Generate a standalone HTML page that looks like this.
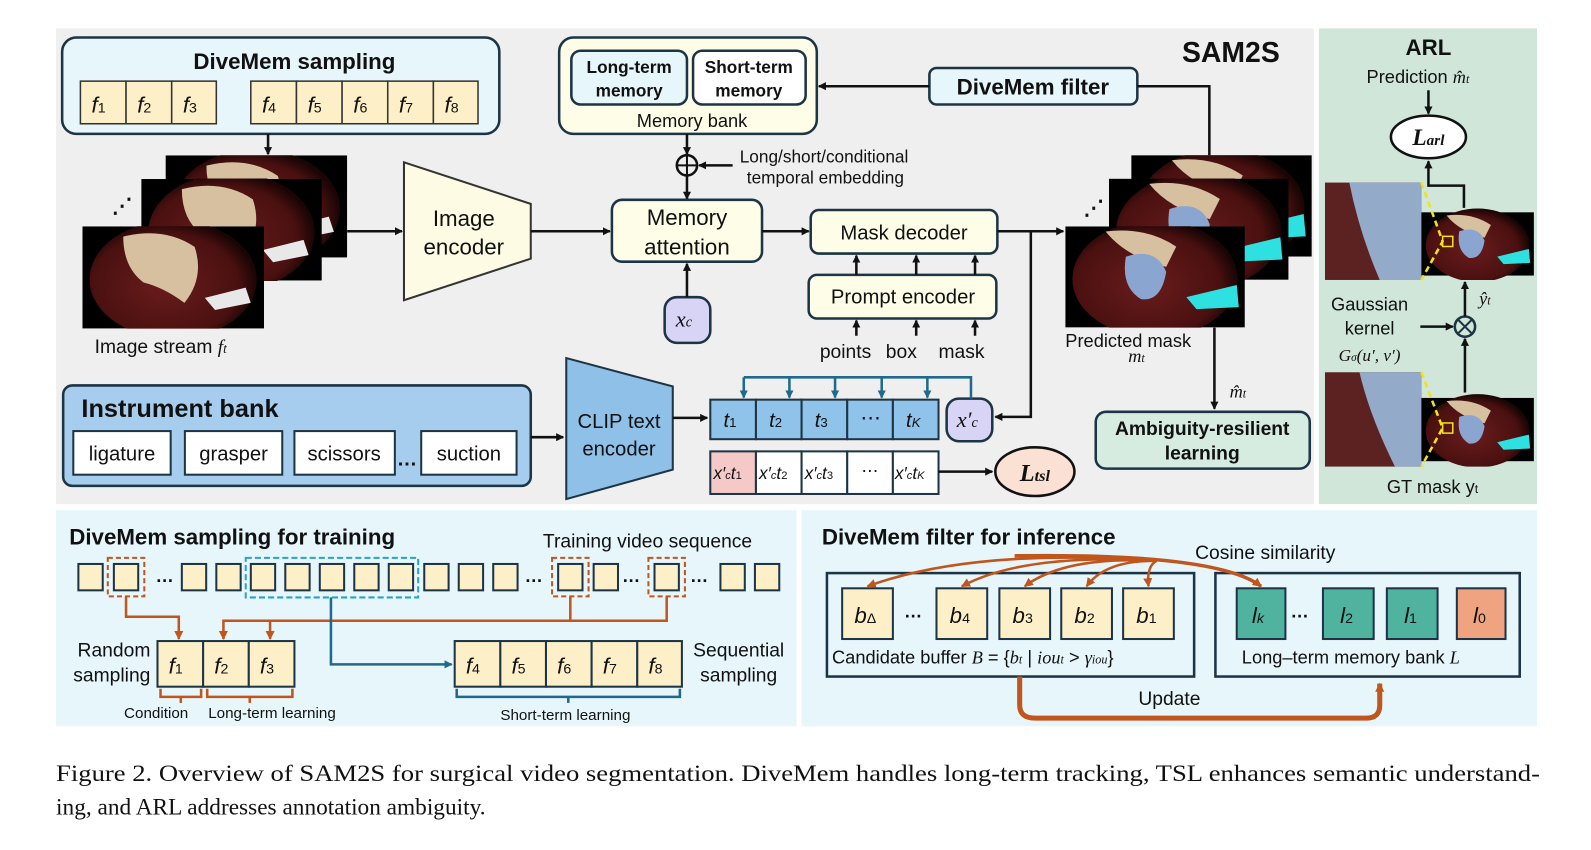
<!DOCTYPE html>
<html><head><meta charset="utf-8"><style>
html,body{margin:0;padding:0;background:#fff;}
svg{display:block;}
text{font-family:"Liberation Sans",sans-serif;fill:#111;}
.m{font-family:"Liberation Serif",serif;font-style:italic;}
.b{font-weight:bold;}
</style></head><body>
<svg width="1591" height="850" viewBox="0 0 1568 838" xmlns="http://www.w3.org/2000/svg">
<defs>
<marker id="ah" markerWidth="8" markerHeight="8" refX="7" refY="4" orient="auto" markerUnits="userSpaceOnUse"><path d="M0,0 L8,4 L0,8 z" fill="#111"/></marker>
<marker id="ahb" markerWidth="8" markerHeight="8" refX="7" refY="4" orient="auto" markerUnits="userSpaceOnUse"><path d="M0,0 L8,4 L0,8 z" fill="#1f6a8c"/></marker>
<marker id="aho" markerWidth="9" markerHeight="9" refX="8" refY="4.5" orient="auto" markerUnits="userSpaceOnUse"><path d="M0,0 L9,4.5 L0,9 z" fill="#c0561c"/></marker>
<radialGradient id="liver" cx="0.45" cy="0.55" r="0.55"><stop offset="0" stop-color="#6a1c1c"/><stop offset="0.8" stop-color="#4a1010"/><stop offset="1" stop-color="#1a0505"/></radialGradient>
<symbol id="surg" viewBox="0 0 178 100">
<rect width="178" height="100" fill="#000"/>
<ellipse cx="89" cy="52" rx="82" ry="58" fill="url(#liver)"/>
<path d="M40,10 Q80,0 110,20 Q120,50 100,75 Q80,60 60,55 Q40,40 40,10z" fill="#d6c0a0"/>
<path d="M120,70 L160,60 L165,75 L130,82z" fill="#e8e8e8"/>
</symbol>
<symbol id="pred" viewBox="0 0 178 100">
<rect width="178" height="100" fill="#000"/>
<ellipse cx="89" cy="52" rx="82" ry="58" fill="url(#liver)"/>
<path d="M40,5 Q80,0 110,20 L100,40 Q60,30 40,5z" fill="#d6c0a0"/>
<path d="M60,30 Q90,20 100,45 Q95,75 75,72 Q55,60 60,30z" fill="#8aa6d0"/>
<path d="M120,70 L170,58 L172,80 L130,82z" fill="#2ee0e0"/>
</symbol>
</defs>

<!-- panels -->
<rect x="55" y="28" width="1240" height="469" fill="#efefef"/>
<rect x="1300" y="28" width="215" height="469" fill="#d0e6d9"/>
<rect x="55" y="503" width="730" height="213" fill="#e6f6fb"/>
<rect x="790" y="503" width="725" height="213" fill="#e6f6fb"/>

<!-- DiveMem sampling -->
<rect x="61" y="37" width="431" height="95" rx="14" fill="#e6f6fb" stroke="#1c3444" stroke-width="2.5"/>
<text x="290" y="68" font-size="22" class="b" text-anchor="middle">DiveMem sampling</text>
<g fill="#fdefc8" stroke="#333" stroke-width="1.5">
<rect x="79" y="80" width="45" height="42"/><rect x="124" y="80" width="45" height="42"/><rect x="169" y="80" width="44" height="42"/>
<rect x="247" y="80" width="45" height="42"/><rect x="292" y="80" width="45" height="42"/><rect x="337" y="80" width="45" height="42"/><rect x="382" y="80" width="45" height="42"/><rect x="427" y="80" width="44" height="42"/>
</g>
<g font-size="22" class="m">
<text x="90" y="111">f<tspan font-size="14" font-style="normal">1</tspan></text>
<text x="135" y="111">f<tspan font-size="14" font-style="normal">2</tspan></text>
<text x="180" y="111">f<tspan font-size="14" font-style="normal">3</tspan></text>
<text x="258" y="111">f<tspan font-size="14" font-style="normal">4</tspan></text>
<text x="303" y="111">f<tspan font-size="14" font-style="normal">5</tspan></text>
<text x="348" y="111">f<tspan font-size="14" font-style="normal">6</tspan></text>
<text x="393" y="111">f<tspan font-size="14" font-style="normal">7</tspan></text>
<text x="438" y="111">f<tspan font-size="14" font-style="normal">8</tspan></text>
</g>
<line x1="264" y1="132" x2="264" y2="152" stroke="#111" stroke-width="2.5" marker-end="url(#ah)"/>

<!-- image stream -->
<use href="#surg" x="163" y="153" width="179" height="101"/>
<use href="#surg" x="139" y="176" width="178" height="101"/>
<use href="#surg" x="81" y="223" width="179" height="101"/>
<text x="110" y="210" font-size="20" class="b">⋰</text>
<text x="93" y="348" font-size="19">Image stream <tspan class="m">f<tspan font-size="13">t</tspan></tspan></text>
<line x1="342" y1="228" x2="396" y2="228" stroke="#111" stroke-width="2.5" marker-end="url(#ah)"/>
<polygon points="398,160 523,201 523,255 398,296" fill="#fdfbe3" stroke="#333" stroke-width="2"/>
<text x="457" y="223" font-size="22" text-anchor="middle">Image</text>
<text x="457" y="251" font-size="22" text-anchor="middle">encoder</text>
<line x1="523" y1="228" x2="601" y2="228" stroke="#111" stroke-width="2.5" marker-end="url(#ah)"/>

<!-- memory bank -->
<rect x="551" y="37" width="254" height="95" rx="14" fill="#fdfde8" stroke="#1c3444" stroke-width="2.5"/>
<rect x="563" y="50" width="114" height="53" rx="9" fill="#e6f6fb" stroke="#1c3444" stroke-width="2.5"/>
<rect x="683" y="50" width="111" height="53" rx="9" fill="#fff" stroke="#1c3444" stroke-width="2.5"/>
<text x="620" y="72" font-size="17" class="b" text-anchor="middle">Long-term</text>
<text x="620" y="95" font-size="17" class="b" text-anchor="middle">memory</text>
<text x="738" y="72" font-size="17" class="b" text-anchor="middle">Short-term</text>
<text x="738" y="95" font-size="17" class="b" text-anchor="middle">memory</text>
<text x="682" y="125" font-size="18" text-anchor="middle">Memory bank</text>
<line x1="677" y1="132" x2="677" y2="152" stroke="#111" stroke-width="2.5" marker-end="url(#ah)"/>
<circle cx="677" cy="163" r="10" fill="none" stroke="#111" stroke-width="2.5"/>
<line x1="667" y1="163" x2="687" y2="163" stroke="#111" stroke-width="2"/><line x1="677" y1="153" x2="677" y2="173" stroke="#111" stroke-width="2"/>
<line x1="677" y1="173" x2="677" y2="196" stroke="#111" stroke-width="2.5" marker-end="url(#ah)"/>
<line x1="722" y1="163" x2="689" y2="163" stroke="#111" stroke-width="2.5" marker-end="url(#ah)"/>
<text x="729" y="160" font-size="17">Long/short/conditional</text>
<text x="736" y="181" font-size="17">temporal embedding</text>

<rect x="603" y="197" width="148" height="61" rx="10" fill="#fdfde8" stroke="#1c3444" stroke-width="2.5"/>
<text x="677" y="222" font-size="22" text-anchor="middle">Memory</text>
<text x="677" y="251" font-size="22" text-anchor="middle">attention</text>
<rect x="655" y="293" width="45" height="45" rx="12" fill="#d8d4f5" stroke="#1c3444" stroke-width="2.5"/>
<text x="666" y="322" font-size="22" class="m">x<tspan font-size="14">c</tspan></text>
<line x1="677" y1="293" x2="677" y2="260" stroke="#111" stroke-width="2.5" marker-end="url(#ah)"/>
<line x1="751" y1="228" x2="797" y2="228" stroke="#111" stroke-width="2.5" marker-end="url(#ah)"/>

<rect x="799" y="207" width="184" height="43" rx="8" fill="#fdfde8" stroke="#1c3444" stroke-width="2.5"/>
<text x="891" y="236" font-size="20" text-anchor="middle">Mask decoder</text>
<rect x="797" y="271" width="185" height="43" rx="8" fill="#fdfde8" stroke="#1c3444" stroke-width="2.5"/>
<text x="890" y="299" font-size="20" text-anchor="middle">Prompt encoder</text>
<g stroke="#111" stroke-width="2.5" marker-end="url(#ah)">
<line x1="844" y1="271" x2="844" y2="252"/><line x1="903" y1="271" x2="903" y2="252"/><line x1="961" y1="271" x2="961" y2="252"/>
<line x1="844" y1="331" x2="844" y2="316"/><line x1="903" y1="331" x2="903" y2="316"/><line x1="961" y1="331" x2="961" y2="316"/>
</g>
<text x="808" y="353" font-size="19">points</text><text x="873" y="353" font-size="19">box</text><text x="925" y="353" font-size="19">mask</text>

<polyline points="983,228 1048,228" fill="none" stroke="#111" stroke-width="2.5" marker-end="url(#ah)"/>
<polyline points="1016,228 1016,411 981,411" fill="none" stroke="#111" stroke-width="2.5" marker-end="url(#ah)"/>

<!-- DiveMem filter -->
<rect x="916" y="67" width="205" height="36" rx="7" fill="#e6f6fb" stroke="#1c3444" stroke-width="2.5"/>
<text x="1018" y="93" font-size="22" class="b" text-anchor="middle">DiveMem filter</text>
<polyline points="1121,85 1192,85 1192,153" fill="none" stroke="#111" stroke-width="2.5"/>
<line x1="916" y1="85" x2="807" y2="85" stroke="#111" stroke-width="2.5" marker-end="url(#ah)"/>
<text x="1165" y="61" font-size="28" class="b">SAM2S</text>

<use href="#pred" x="1115" y="153" width="178" height="100"/>
<use href="#pred" x="1093" y="176" width="177" height="100"/>
<use href="#pred" x="1050" y="223" width="177" height="100"/>
<text x="1068" y="212" font-size="20" class="b">⋰</text>
<text x="1050" y="342" font-size="18">Predicted mask</text>
<text x="1112" y="357" font-size="18" class="m">m<tspan font-size="12">t</tspan></text>
<line x1="1197" y1="323" x2="1197" y2="403" stroke="#111" stroke-width="2.5" marker-end="url(#ah)"/>
<text x="1212" y="392" font-size="18" class="m">m̂<tspan font-size="12">t</tspan></text>
<rect x="1080" y="406" width="211" height="56" rx="10" fill="#d6ece0" stroke="#1c3444" stroke-width="2.5"/>
<text x="1185" y="429" font-size="19" class="b" text-anchor="middle">Ambiguity-resilient</text>
<text x="1185" y="453" font-size="19" class="b" text-anchor="middle">learning</text>

<!-- Instrument bank -->
<rect x="62" y="380" width="461" height="99" rx="9" fill="#a7cdee" stroke="#1c3444" stroke-width="2.5"/>
<text x="80" y="411" font-size="25" class="b">Instrument bank</text>
<g fill="#fff" stroke="#1c3444" stroke-width="2">
<rect x="72" y="425" width="96" height="43"/><rect x="182" y="425" width="96" height="43"/><rect x="290" y="425" width="99" height="43"/><rect x="415" y="425" width="94" height="43"/>
</g>
<g font-size="20" text-anchor="middle"><text x="120" y="454">ligature</text><text x="230" y="454">grasper</text><text x="339" y="454">scissors</text><text x="462" y="454">suction</text></g>
<text x="391" y="459" font-size="20" class="b">…</text>
<line x1="523" y1="431" x2="555" y2="431" stroke="#111" stroke-width="2.5" marker-end="url(#ah)"/>
<polygon points="558,353 663,381 663,463 558,492" fill="#8ec0e8" stroke="#1c3444" stroke-width="2"/>
<text x="610" y="422" font-size="20" text-anchor="middle">CLIP text</text>
<text x="610" y="449" font-size="20" text-anchor="middle">encoder</text>
<line x1="663" y1="412" x2="697" y2="412" stroke="#111" stroke-width="2.5" marker-end="url(#ah)"/>

<g fill="#8fc3ea" stroke="#1c3444" stroke-width="2">
<rect x="700" y="394" width="45" height="39"/><rect x="745" y="394" width="45" height="39"/><rect x="790" y="394" width="45" height="39"/><rect x="835" y="394" width="45" height="39"/><rect x="880" y="394" width="45" height="39"/>
</g>
<g font-size="20" class="m">
<text x="713" y="421">t<tspan font-size="13" font-style="normal">1</tspan></text>
<text x="758" y="421">t<tspan font-size="13" font-style="normal">2</tspan></text>
<text x="803" y="421">t<tspan font-size="13" font-style="normal">3</tspan></text>
<text x="848" y="419" font-style="normal">⋯</text>
<text x="893" y="421">t<tspan font-size="13">K</tspan></text>
</g>
<rect x="933" y="393" width="45" height="42" rx="12" fill="#d8d4f5" stroke="#1c3444" stroke-width="2.5"/>
<text x="943" y="421" font-size="22" class="m">x′<tspan font-size="14">c</tspan></text>
<g stroke="#1f6a8c" stroke-width="2.5" fill="none">
<polyline points="957,393 957,372 733,372"/>
</g>
<g stroke="#1f6a8c" stroke-width="2.5" marker-end="url(#ahb)">
<line x1="733" y1="372" x2="733" y2="392"/><line x1="778" y1="372" x2="778" y2="392"/><line x1="823" y1="372" x2="823" y2="392"/><line x1="869" y1="372" x2="869" y2="392"/><line x1="914" y1="372" x2="914" y2="392"/>
</g>
<g stroke="#1c3444" stroke-width="2">
<rect x="700" y="445" width="45" height="42" fill="#f6c9c9"/><rect x="745" y="445" width="45" height="42" fill="#fff"/><rect x="790" y="445" width="45" height="42" fill="#fff"/><rect x="835" y="445" width="45" height="42" fill="#fff"/><rect x="880" y="445" width="45" height="42" fill="#fff"/>
</g>
<g font-size="17" class="m">
<text x="703" y="472">x′<tspan font-size="11">c</tspan>t<tspan font-size="11" font-style="normal">1</tspan></text>
<text x="748" y="472">x′<tspan font-size="11">c</tspan>t<tspan font-size="11" font-style="normal">2</tspan></text>
<text x="793" y="472">x′<tspan font-size="11">c</tspan>t<tspan font-size="11" font-style="normal">3</tspan></text>
<text x="849" y="470" font-style="normal">⋯</text>
<text x="882" y="472">x′<tspan font-size="11">c</tspan>t<tspan font-size="11">K</tspan></text>
</g>
<line x1="925" y1="465" x2="978" y2="465" stroke="#111" stroke-width="2.5" marker-end="url(#ah)"/>
<ellipse cx="1020" cy="465" rx="39" ry="24" fill="#fbe0d4" stroke="#111" stroke-width="2.5"/>
<text x="1020" y="474" font-size="24" class="m b" text-anchor="middle">L<tspan font-size="16">tsl</tspan></text>

<!-- ARL -->
<text x="1408" y="54" font-size="22" class="b" text-anchor="middle">ARL</text>
<text x="1347" y="82" font-size="18">Prediction <tspan class="m">m̂<tspan font-size="12">t</tspan></tspan></text>
<line x1="1408" y1="89" x2="1408" y2="112" stroke="#111" stroke-width="2.5" marker-end="url(#ah)"/>
<ellipse cx="1408" cy="135" rx="37" ry="21" fill="#fff" stroke="#111" stroke-width="2.5"/>
<text x="1408" y="143" font-size="23" class="m b" text-anchor="middle">L<tspan font-size="15">arl</tspan></text>
<rect x="1306" y="180" width="95" height="96" fill="#5c2222"/>
<path d="M1330,180 L1401,180 L1401,276 L1360,276 Q1340,230 1330,180z" fill="#93abc8"/>
<use href="#pred" x="1401" y="205" width="111" height="71"/>
<polyline points="1401,180 1422,238 1401,276" fill="none" stroke="#f3e21a" stroke-width="2.5" stroke-dasharray="6,4"/>
<rect x="1422" y="233" width="10" height="10" fill="none" stroke="#f3e21a" stroke-width="1.5"/>
<polyline points="1443,205 1443,183 1408,183 1408,159" fill="none" stroke="#111" stroke-width="2.5" marker-end="url(#ah)"/>
<text x="1350" y="306" font-size="18" text-anchor="middle">Gaussian</text>
<text x="1350" y="330" font-size="18" text-anchor="middle">kernel</text>
<text x="1350" y="356" font-size="17" class="m" text-anchor="middle">G<tspan font-size="11">σ</tspan>(u′, v′)</text>
<line x1="1400" y1="322" x2="1432" y2="322" stroke="#111" stroke-width="2.5" marker-end="url(#ah)"/>
<circle cx="1444" cy="322" r="10" fill="none" stroke="#1c3444" stroke-width="2.5"/>
<line x1="1437" y1="315" x2="1451" y2="329" stroke="#1c3444" stroke-width="2"/><line x1="1451" y1="315" x2="1437" y2="329" stroke="#1c3444" stroke-width="2"/>
<line x1="1444" y1="312" x2="1444" y2="278" stroke="#111" stroke-width="2.5" marker-end="url(#ah)"/>
<line x1="1444" y1="387" x2="1444" y2="334" stroke="#111" stroke-width="2.5" marker-end="url(#ah)"/>
<text x="1458" y="300" font-size="18" class="m">ŷ<tspan font-size="12">t</tspan></text>
<rect x="1306" y="367" width="95" height="93" fill="#5c2222"/>
<path d="M1340,367 L1401,367 L1401,460 L1375,460 Q1350,410 1340,367z" fill="#93abc8"/>
<use href="#pred" x="1401" y="387" width="111" height="73"/>
<polyline points="1401,367 1422,422 1401,460" fill="none" stroke="#f3e21a" stroke-width="2.5" stroke-dasharray="6,4"/>
<rect x="1422" y="417" width="10" height="10" fill="none" stroke="#f3e21a" stroke-width="1.5"/>
<text x="1367" y="486" font-size="18">GT mask y<tspan font-size="12">t</tspan></text>

<!-- bottom left -->
<text x="68" y="537" font-size="22" class="b">DiveMem sampling for training</text>
<text x="535" y="540" font-size="19">Training video sequence</text>
<g fill="#fdefc8" stroke="#1c3444" stroke-width="2">
<rect x="77" y="556" width="24" height="26"/><rect x="112" y="556" width="24" height="26"/>
<rect x="179" y="556" width="24" height="26"/><rect x="213" y="556" width="24" height="26"/>
<rect x="247" y="556" width="24" height="26"/><rect x="281" y="556" width="24" height="26"/><rect x="315" y="556" width="24" height="26"/><rect x="349" y="556" width="24" height="26"/><rect x="383" y="556" width="24" height="26"/>
<rect x="418" y="556" width="24" height="26"/><rect x="452" y="556" width="24" height="26"/><rect x="486" y="556" width="24" height="26"/>
<rect x="550" y="556" width="24" height="26"/><rect x="585" y="556" width="24" height="26"/>
<rect x="645" y="556" width="24" height="26"/>
<rect x="710" y="556" width="24" height="26"/><rect x="744" y="556" width="24" height="26"/>
</g>
<g font-size="18" class="b"><text x="153" y="574">…</text><text x="517" y="574">…</text><text x="613" y="574">…</text><text x="680" y="574">…</text></g>
<g fill="none" stroke="#c0561c" stroke-width="2" stroke-dasharray="5,3">
<rect x="106" y="550" width="36" height="38"/><rect x="544" y="550" width="36" height="38"/><rect x="639" y="550" width="36" height="38"/>
</g>
<rect x="242" y="550" width="170" height="39" fill="none" stroke="#29a3cc" stroke-width="2" stroke-dasharray="6,3"/>
<g fill="none" stroke="#c0561c" stroke-width="2.5">
<polyline points="124,588 124,608 176,608 176,630" marker-end="url(#aho)"/>
<polyline points="562,588 562,612"/><polyline points="657,588 657,612 220,612 220,630" marker-end="url(#aho)"/>
<polyline points="266,612 266,630" marker-end="url(#aho)"/>
</g>
<polyline points="326,589 326,655 445,655" fill="none" stroke="#1f6a8c" stroke-width="2.5" marker-end="url(#ahb)"/>
<g fill="#fdefc8" stroke="#1c3444" stroke-width="2">
<rect x="155" y="632" width="45" height="45"/><rect x="200" y="632" width="45" height="45"/><rect x="245" y="632" width="45" height="45"/>
<rect x="448" y="632" width="45" height="45"/><rect x="493" y="632" width="45" height="45"/><rect x="538" y="632" width="45" height="45"/><rect x="583" y="632" width="45" height="45"/><rect x="628" y="632" width="44" height="45"/>
</g>
<g font-size="22" class="m">
<text x="166" y="664">f<tspan font-size="14" font-style="normal">1</tspan></text>
<text x="211" y="664">f<tspan font-size="14" font-style="normal">2</tspan></text>
<text x="256" y="664">f<tspan font-size="14" font-style="normal">3</tspan></text>
<text x="459" y="664">f<tspan font-size="14" font-style="normal">4</tspan></text>
<text x="504" y="664">f<tspan font-size="14" font-style="normal">5</tspan></text>
<text x="549" y="664">f<tspan font-size="14" font-style="normal">6</tspan></text>
<text x="594" y="664">f<tspan font-size="14" font-style="normal">7</tspan></text>
<text x="639" y="664">f<tspan font-size="14" font-style="normal">8</tspan></text>
</g>
<text x="148" y="647" font-size="19" text-anchor="end">Random</text>
<text x="148" y="672" font-size="19" text-anchor="end">sampling</text>
<text x="728" y="647" font-size="19" text-anchor="middle">Sequential</text>
<text x="728" y="672" font-size="19" text-anchor="middle">sampling</text>
<g fill="none" stroke="#c0561c" stroke-width="2.5">
<polyline points="158,679 158,687 198,687 198,679"/><line x1="178" y1="687" x2="178" y2="693"/>
<polyline points="204,679 204,687 288,687 288,679"/><line x1="246" y1="687" x2="246" y2="693"/>
</g>
<g fill="none" stroke="#1f6a8c" stroke-width="2.5">
<polyline points="450,679 450,687 670,687 670,679"/><line x1="560" y1="687" x2="560" y2="693"/>
</g>
<text x="122" y="708" font-size="15">Condition</text>
<text x="205" y="708" font-size="15">Long-term learning</text>
<text x="493" y="710" font-size="15">Short-term learning</text>

<!-- bottom right -->
<text x="810" y="537" font-size="22" class="b">DiveMem filter for inference</text>
<text x="1178" y="551" font-size="19">Cosine similarity</text>
<rect x="815" y="565" width="362" height="102" fill="none" stroke="#1c3444" stroke-width="2.5"/>
<rect x="1198" y="565" width="300" height="102" fill="none" stroke="#1c3444" stroke-width="2.5"/>
<g fill="#fdefc8" stroke="#1c3444" stroke-width="2">
<rect x="830" y="580" width="50" height="50"/><rect x="923" y="580" width="50" height="50"/><rect x="985" y="580" width="50" height="50"/><rect x="1046" y="580" width="50" height="50"/><rect x="1107" y="580" width="50" height="50"/>
</g>
<g stroke="#1c3444" stroke-width="2">
<rect x="1219" y="580" width="48" height="50" fill="#4fb3a0"/><rect x="1304" y="580" width="50" height="50" fill="#4fb3a0"/><rect x="1367" y="580" width="50" height="50" fill="#4fb3a0"/><rect x="1436" y="580" width="48" height="50" fill="#f0a380"/>
</g>
<g font-size="22" class="m">
<text x="842" y="614">b<tspan font-size="14" font-style="normal">Δ</tspan></text>
<text x="936" y="614">b<tspan font-size="14" font-style="normal">4</tspan></text>
<text x="998" y="614">b<tspan font-size="14" font-style="normal">3</tspan></text>
<text x="1059" y="614">b<tspan font-size="14" font-style="normal">2</tspan></text>
<text x="1120" y="614">b<tspan font-size="14" font-style="normal">1</tspan></text>
<text x="1234" y="614">l<tspan font-size="14">k</tspan></text>
<text x="1321" y="614">l<tspan font-size="14" font-style="normal">2</tspan></text>
<text x="1384" y="614">l<tspan font-size="14" font-style="normal">1</tspan></text>
<text x="1452" y="614">l<tspan font-size="14" font-style="normal">0</tspan></text>
</g>
<g font-size="18" class="b"><text x="891" y="609">…</text><text x="1272" y="609">…</text></g>
<text x="820" y="654" font-size="18">Candidate buffer <tspan class="m">B</tspan> = {<tspan class="m">b<tspan font-size="12">t</tspan></tspan> | <tspan class="m">iou<tspan font-size="12">t</tspan></tspan> &gt; <tspan class="m">γ<tspan font-size="12">iou</tspan></tspan>}</text>
<text x="1224" y="654" font-size="18">Long–term memory bank <tspan class="m">L</tspan></text>
<g fill="none" stroke="#c0561c" stroke-width="2.5" marker-end="url(#aho)">
<path d="M1140,553 Q960,540 855,578"/>
<path d="M1140,553 Q1010,545 948,578"/>
<path d="M1140,553 Q1050,548 1010,578"/>
<path d="M1140,553 Q1090,552 1071,578"/>
<path d="M1140,553 Q1130,558 1132,578"/>
<path d="M1000,548 Q1200,545 1243,578" stroke-width="3.5"/>
</g>
<path d="M1005,667 L1005,695 Q1005,708 1020,708 L1347,708 Q1360,708 1360,695 L1360,674" fill="none" stroke="#c0561c" stroke-width="5" marker-end="url(#aho)"/>
<text x="1122" y="695" font-size="19">Update</text>

<!-- caption -->
<text x="55" y="770" font-size="23" style="font-family:'Liberation Serif',serif" textLength="1463" lengthAdjust="spacingAndGlyphs">Figure 2. Overview of SAM2S for surgical video segmentation. DiveMem handles long-term tracking, TSL enhances semantic understand-</text>
<text x="55" y="803" font-size="23" style="font-family:'Liberation Serif',serif">ing, and ARL addresses annotation ambiguity.</text>
</svg>
</body></html>
